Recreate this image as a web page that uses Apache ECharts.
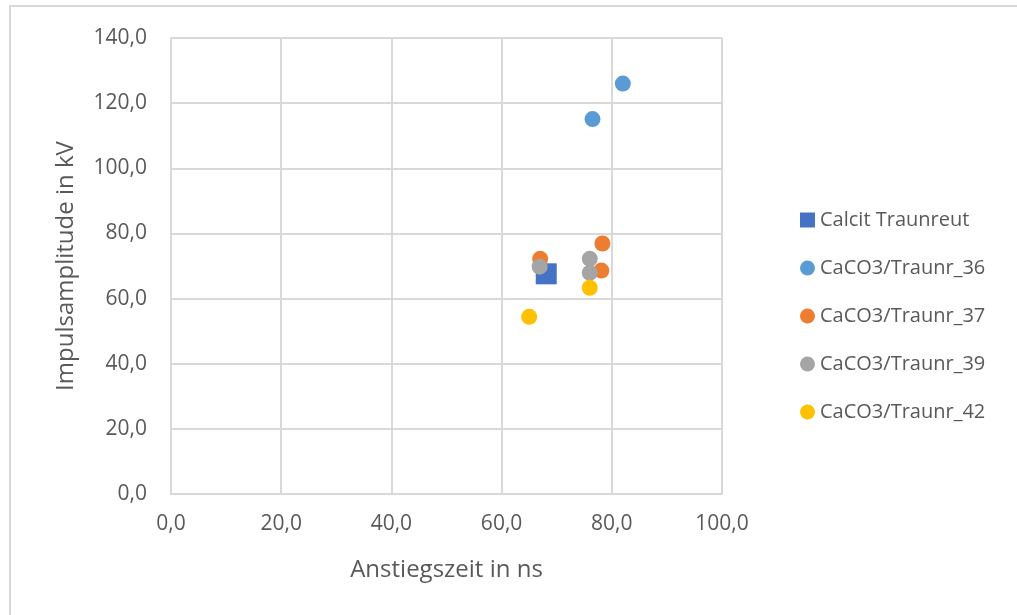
<!DOCTYPE html>
<html>
<head>
<meta charset="utf-8">
<script src="https://cdn.jsdelivr.net/npm/echarts@6/dist/echarts.min.js"></script>
<style>
  html, body { margin: 0; padding: 0; background: #fff; }
  #chart { width: 1017px; height: 615px; }
</style>
</head>
<body>
<div id="chart"></div>
<script>
// Rise time (ns) vs. pulse amplitude (kV) for each sample
const seriesNames = ['Calcit Traunreut', 'CaCO3/Traunr_36', 'CaCO3/Traunr_37', 'CaCO3/Traunr_39', 'CaCO3/Traunr_42'];
const calcitTraunreut = [[68.1, 67.6]];
const traunr36 = [[76.5, 115.1], [82.0, 126.0]];
const traunr37 = [[67.0, 72.2], [78.3, 76.9], [78.1, 68.6]];
const traunr39 = [[66.9, 69.8], [76.0, 72.2], [76.0, 67.9]];
const traunr42 = [[65.0, 54.4], [76.0, 63.3]];

const xTitle = 'Anstiegszeit in ns';
const yTitle = 'Impulsamplitude in kV';

const colors = ['#4472C4', '#5B9BD5', '#ED7D31', '#A5A5A5', '#FFC000'];
const fontFamily = '"Open Sans", "Noto Sans", sans-serif';
const textColor = '#595959';
const gridColor = '#D9D9D9';

const fmt = v => v.toFixed(1).replace('.', ',');

const chart = echarts.init(document.getElementById('chart'), null, { renderer: 'canvas' });

const seriesData = [calcitTraunreut, traunr36, traunr37, traunr39, traunr42];

chart.setOption({
  animation: false,
  textStyle: { fontFamily: fontFamily },
  graphic: [{
    type: 'rect',
    shape: { x: 10, y: 6, width: 1030, height: 640 },
    style: { fill: 'none', stroke: '#D9D9D9', lineWidth: 2 },
    silent: true
  }],
  grid: { left: 171, right: 295, top: 38, bottom: 121 },
  legend: {
    orient: 'vertical',
    left: 795,
    top: 204,
    itemWidth: 15,
    itemHeight: 15,
    itemGap: 26,
    textStyle: { color: textColor, fontSize: 20, fontFamily: fontFamily, lineHeight: 22 },
    data: seriesNames.map((n, i) => ({ name: n, icon: i === 0 ? 'rect' : 'circle' }))
  },
  xAxis: {
    type: 'value',
    min: 0, max: 100, interval: 20,
    name: xTitle,
    nameLocation: 'middle',
    nameGap: 64,
    nameTextStyle: { color: textColor, fontSize: 24, fontFamily: fontFamily },
    axisLine: { lineStyle: { color: gridColor, width: 2 } },
    axisTick: { show: false },
    axisLabel: { color: textColor, fontSize: 21, margin: 20, formatter: fmt },
    splitLine: { lineStyle: { color: gridColor, width: 2 } }
  },
  yAxis: {
    type: 'value',
    min: 0, max: 140, interval: 20,
    name: yTitle,
    nameLocation: 'middle',
    nameGap: 93,
    nameTextStyle: { color: textColor, fontSize: 24, fontFamily: fontFamily },
    axisLine: { show: true, lineStyle: { color: gridColor, width: 2 } },
    axisTick: { show: false },
    axisLabel: { color: textColor, fontSize: 21, margin: 24, formatter: fmt },
    splitLine: { lineStyle: { color: gridColor, width: 2 } }
  },
  series: seriesData.map((d, i) => ({
    name: seriesNames[i],
    type: 'scatter',
    data: d,
    symbol: i === 0 ? 'rect' : 'circle',
    symbolSize: i === 0 ? 21 : 16,
    itemStyle: { color: colors[i], opacity: 1 },
    z: 2 + i
  }))
});
</script>
</body>
</html>
